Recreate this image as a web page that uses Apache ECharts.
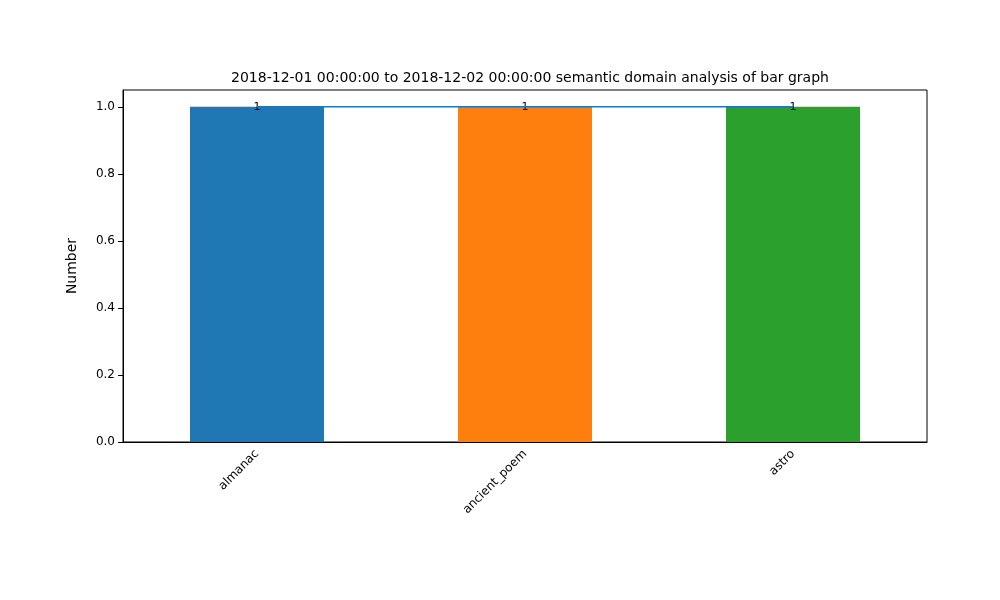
<!DOCTYPE html>
<html><head><meta charset="utf-8">
<script src="https://cdn.jsdelivr.net/npm/echarts@6/dist/echarts.min.js"></script>
<style>html,body{margin:0;padding:0;background:#fff}#c{width:1000px;height:600px}</style>
</head><body><div id="c"></div>
<script>
const categories = ['almanac', 'ancient_poem', 'astro'];
const values = [1, 1, 1];
const colors = ['#1f77b4', '#ff7f0e', '#2ca02c'];
const titleText = '2018-12-01 00:00:00 to 2018-12-02 00:00:00 semantic domain analysis of bar graph';

const chart = echarts.init(document.getElementById('c'));
chart.setOption({
  animation: false,
  textStyle: {fontFamily: 'DejaVu Sans'},
  title: {text: titleText, left: 525, top: 66, textAlign: 'center',
    textStyle: {fontSize: 14, fontWeight: 'normal', color: '#000', fontFamily: 'DejaVu Sans'}},
  grid: {left: 123, right: 73, top: 90, bottom: 158, show: true, borderColor: '#000', borderWidth: 1},
  xAxis: {type: 'category', data: categories,
    axisLine: {lineStyle: {color: '#000'}},
    axisTick: {alignWithLabel: true, lineStyle: {color: '#000'}},
    axisLabel: {rotate: 45, color: '#000', fontSize: 12, margin: 10}},
  yAxis: {type: 'value', min: 0, max: 1.05, interval: 0.2,
    name: 'Number', nameLocation: 'middle', nameGap: 44,
    nameTextStyle: {fontSize: 14, color: '#000'},
    splitLine: {show: false},
    axisLine: {show: true, lineStyle: {color: '#000'}},
    axisTick: {show: true, lineStyle: {color: '#000'}},
    axisLabel: {color: '#000', fontSize: 12, showMaxLabel: false,
      formatter: v => v.toFixed(1)}},
  series: [
    {type: 'bar', barWidth: '50%',
      data: values.map((v, i) => ({value: v, itemStyle: {color: colors[i]}})),
      label: {show: true, position: 'top', distance: -6, color: '#000', fontSize: 11}},
    {type: 'line', data: values, symbol: 'none', z: 5,
      lineStyle: {color: '#1f77b4', width: 1.5}}
  ]
});
</script></body></html>
